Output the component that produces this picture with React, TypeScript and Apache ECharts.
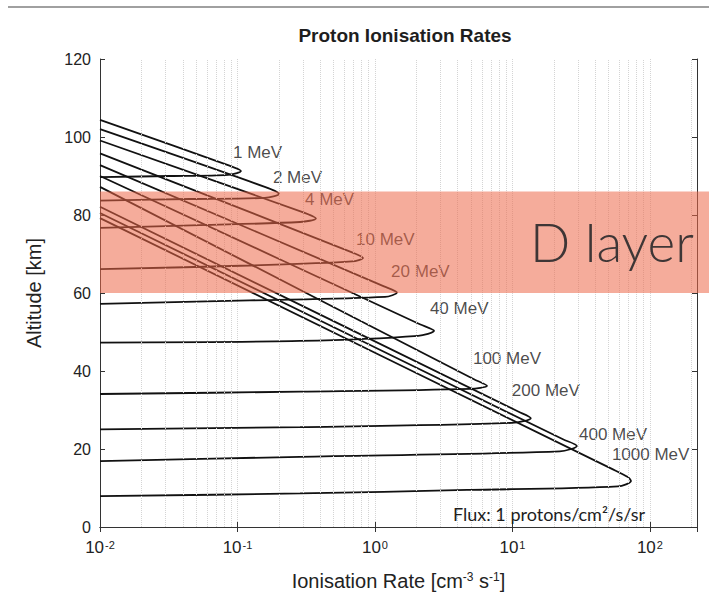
import React, { useEffect, useRef } from 'react';
import * as echarts from 'echarts';

// ---- Data ----
const ENERGY_LABELS = ['1 MeV', '2 MeV', '4 MeV', '10 MeV', '20 MeV', '40 MeV', '100 MeV', '200 MeV', '400 MeV', '1000 MeV'];

// [ionisation rate (cm^-3 s^-1), altitude (km)] — each profile is a closed loop
const CURVE_1_MEV = [[0.01, 104.4], [0.0853, 92.8], [0.106, 91.3], [0.0853, 90.3], [0.0323, 90.0], [0.01, 89.7]];
const CURVE_2_MEV = [[0.01, 102.0], [0.158, 87.2], [0.2, 85.4], [0.158, 84.4], [0.0452, 84.1], [0.01, 83.7]];
const CURVE_4_MEV = [[0.01, 99.1], [0.294, 80.8], [0.372, 79.1], [0.285, 78.2], [0.0533, 77.4], [0.01, 76.7]];
const CURVE_10_MEV = [[0.01, 95.8], [0.681, 70.4], [0.818, 69.0], [0.681, 68.1], [0.123, 67.05], [0.01, 66.1]];
const CURVE_20_MEV = [[0.01, 92.8], [1.163, 61.7], [1.445, 60.1], [1.183, 59.0], [0.123, 58.1], [0.01, 57.2]];
const CURVE_40_MEV = [[0.01, 90.0], [2.12, 52.0], [2.69, 50.3], [2.06, 49.0], [0.285, 47.7], [0.01, 47.3]];
const CURVE_100_MEV = [[0.01, 87.2], [5.25, 37.9], [6.53, 36.2], [4.91, 35.4], [0.285, 34.7], [0.01, 34.1]];
const CURVE_200_MEV = [[0.01, 82.1], [11.0, 29.6], [13.6, 27.9], [9.9, 26.7], [0.285, 25.6], [0.01, 25.05]];
const CURVE_400_MEV = [[0.01, 80.5], [23.3, 22.5], [29.4, 20.8], [22.1, 19.4], [0.285, 18.0], [0.01, 16.9]];
const CURVE_1000_MEV = [[0.01, 79.2], [52.9, 14.9], [69.2, 12.8], [72.8, 11.8], [58.5, 10.4], [4.67, 9.5], [0.285, 8.6], [0.01, 7.9]];

const CURVES = [CURVE_1_MEV, CURVE_2_MEV, CURVE_4_MEV, CURVE_10_MEV, CURVE_20_MEV, CURVE_40_MEV, CURVE_100_MEV, CURVE_200_MEV, CURVE_400_MEV, CURVE_1000_MEV];

// label anchor (left-middle of each label) in data coordinates
const LABEL_ANCHORS = [[0.0927, 95.9], [0.181, 89.7], [0.31, 84.1], [0.728, 73.8], [1.31, 65.4], [2.51, 55.9], [5.16, 43.1], [9.9, 34.9], [30.5, 23.6], [52.9, 18.7]];

const X_MIN = 0.01;
const X_MAX = 220;
const Y_MIN = 0;
const Y_MAX = 120;
const Y_STEP = 20;
const D_LAYER_RANGE = [60, 86]; // km
const TITLE = 'Proton Ionisation Rates';
const Y_NAME = 'Altitude [km]';
const FLUX_NOTE = 'Flux: 1 protons/cm²/s/sr';
const D_LAYER_TEXT = 'D layer';

// minor (2..9 x 10^k) log grid positions
const MINOR_GRID: number[] = [];
for (let k = -2; k <= 2; k++) {
  for (let m = 2; m <= 9; m++) {
    const v = m * Math.pow(10, k);
    if (v < X_MAX) MINOR_GRID.push(v);
  }
}

const FONT = '"Liberation Sans", Arial, Helvetica, sans-serif';

export default function App() {
  const ref = useRef<HTMLDivElement>(null);

  useEffect(() => {
    if (!ref.current) return;
    const chart = echarts.init(ref.current, null, { renderer: 'svg' });

    const gridStyle = { type: 'dotted', color: '#d4d4d4', width: 1 };

    const curveSeries = CURVES.map((c, i) => ({
      type: 'line',
      name: ENERGY_LABELS[i],
      data: c,
      symbol: 'none',
      showSymbol: false,
      smooth: 0.3,
      silent: true,
      z: 3,
      lineStyle: { color: '#111111', width: 1.8 },
    }));

    const option: any = {
      animation: false,
      backgroundColor: '#ffffff',
      textStyle: { fontFamily: FONT },
      title: {
        text: TITLE,
        left: 400,
        top: 21,
        textAlign: 'center',
        textStyle: { fontSize: 19, fontWeight: 'bold', fontFamily: FONT, color: '#1e1e1e' },
      },
      grid: { left: 100, right: 12, top: 59, bottom: 74 },
      xAxis: [
        {
          type: 'log',
          logBase: 10,
          min: X_MIN,
          max: X_MAX,
          position: 'bottom',
          axisLine: { show: true, lineStyle: { color: '#333', width: 1 } },
          axisTick: { show: true, inside: true, length: 5, lineStyle: { color: '#333' } },
          splitLine: { show: true, lineStyle: gridStyle },
          axisLabel: {
            margin: 12,
            color: '#222',
            formatter: (v: number) => {
              const l = Math.log10(v);
              const e = Math.round(l);
              if (Math.abs(l - e) > 1e-6) return '';
              return `{base|10}{sup|${e}}`;
            },
            rich: {
              base: { fontSize: 17, fontFamily: FONT, color: '#222' },
              sup: { fontSize: 11, fontFamily: FONT, color: '#222', verticalAlign: 'top', padding: [0, 0, 6, 1] },
            },
          },
          name: 'Ionisation Rate [cm{sup|-3} s{sup|-1}]',
          nameLocation: 'middle',
          nameGap: 44,
          nameTextStyle: {
            fontSize: 20,
            fontFamily: FONT,
            color: '#222',
            rich: {
              sup: { fontSize: 12, fontFamily: FONT, color: '#222', verticalAlign: 'top', padding: [0, 0, 8, 0] },
            },
          },
        },
        {
          type: 'log',
          logBase: 10,
          min: X_MIN,
          max: X_MAX,
          position: 'top',
          axisLine: { show: true, lineStyle: { color: '#333', width: 1 } },
          axisTick: { show: true, inside: true, length: 5, lineStyle: { color: '#333' } },
          axisLabel: { show: false },
          splitLine: { show: false },
        },
      ],
      yAxis: [
        {
          type: 'value',
          min: Y_MIN,
          max: Y_MAX,
          interval: Y_STEP,
          position: 'left',
          axisLine: { show: true, lineStyle: { color: '#333', width: 1 } },
          axisTick: { show: true, inside: true, length: 5, lineStyle: { color: '#333' } },
          splitLine: { show: false },
          axisLabel: { fontSize: 16, fontFamily: FONT, color: '#222', margin: 9 },
          name: Y_NAME,
          nameLocation: 'middle',
          nameGap: 56,
          nameRotate: 90,
          nameTextStyle: { fontSize: 20, fontFamily: FONT, color: '#222' },
        },
        {
          type: 'value',
          min: Y_MIN,
          max: Y_MAX,
          interval: Y_STEP,
          position: 'right',
          axisLine: { show: true, lineStyle: { color: '#333', width: 1 } },
          axisTick: { show: true, inside: true, length: 5, lineStyle: { color: '#333' } },
          splitLine: { show: false },
          axisLabel: { show: false },
        },
      ],
      series: [
        {
          type: 'line',
          name: 'minor-grid',
          data: [[X_MIN, Y_MIN]],
          symbol: 'none',
          lineStyle: { opacity: 0 },
          silent: true,
          z: 1,
          markLine: {
            silent: true,
            symbol: ['none', 'none'],
            label: { show: false },
            lineStyle: gridStyle,
            data: MINOR_GRID.map((v) => ({ xAxis: v })),
          },
        },
        ...curveSeries,
        {
          type: 'scatter',
          name: 'labels',
          data: LABEL_ANCHORS.map((p, i) => ({ value: p, name: ENERGY_LABELS[i] })),
          symbolSize: 0,
          silent: true,
          z: 4,
          label: {
            show: true,
            formatter: '{b}',
            position: [0, 0],
            align: 'left',
            verticalAlign: 'middle',
            fontSize: 17,
            fontFamily: FONT,
            color: '#1a1a1a',
          },
        },
      ],
    };

    chart.setOption(option);

    const [bx, by0] = chart.convertToPixel({ seriesIndex: 0 }, [X_MIN, D_LAYER_RANGE[1]]) as number[];
    const [, by1] = chart.convertToPixel({ seriesIndex: 0 }, [X_MIN, D_LAYER_RANGE[0]]) as number[];

    chart.setOption({
      graphic: [
        {
          type: 'line',
          silent: true,
          z: 20,
          shape: { x1: 8, y1: 7, x2: 709, y2: 7 },
          style: { stroke: '#a0a0a0', lineWidth: 2 },
        },
        {
          type: 'rect',
          silent: true,
          z: 30,
          shape: { x: bx, y: by0, width: 709 - bx, height: by1 - by0 },
          style: { fill: 'rgb(237,104,72)', opacity: 0.55 },
        },
        {
          type: 'text',
          silent: true,
          z: 40,
          x: 530,
          y: 241,
          style: {
            text: D_LAYER_TEXT,
            fontSize: 53,
            fontWeight: 300,
            fontFamily: 'Lato, "Open Sans", sans-serif',
            fill: '#3e3636',
            align: 'left',
            verticalAlign: 'middle',
          },
        },
        {
          type: 'text',
          silent: true,
          z: 40,
          x: 453,
          y: 514,
          style: {
            text: FLUX_NOTE,
            fontSize: 18,
            fontFamily: 'Lato, "Open Sans", sans-serif',
            fill: '#1e1e1e',
            align: 'left',
            verticalAlign: 'middle',
          },
        },
      ],
    });

    return () => chart.dispose();
  }, []);

  return <div ref={ref} style={{ position: 'absolute', left: 0, top: 0, width: 709, height: 601 }} />;
}
